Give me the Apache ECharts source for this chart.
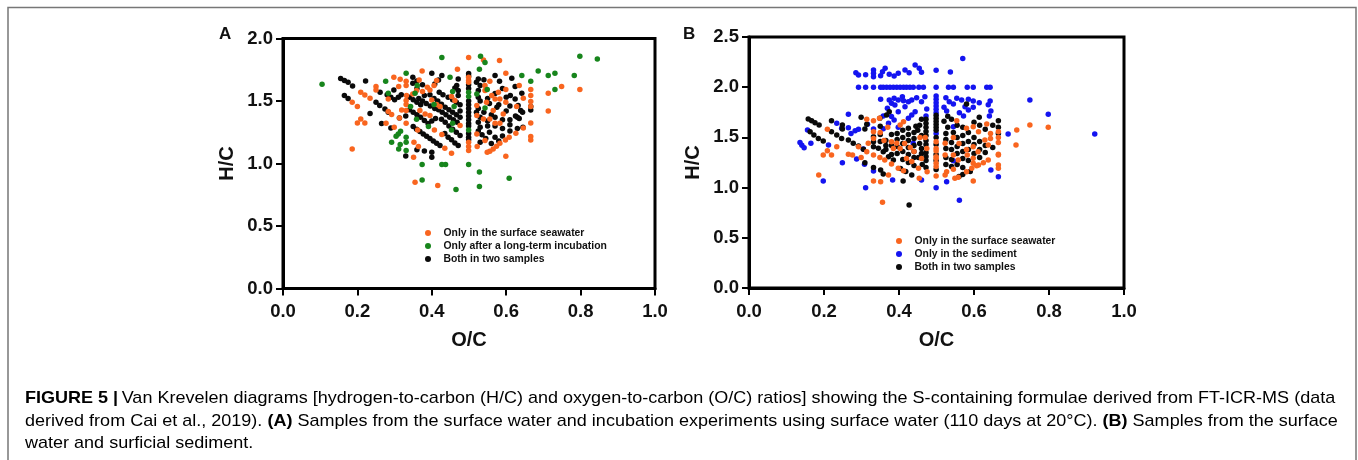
<!DOCTYPE html>
<html><head><meta charset="utf-8">
<style>html,body{margin:0;padding:0;background:#fff}#c{width:1358px;height:460px}</style>
<script src="https://cdn.jsdelivr.net/npm/echarts@6/dist/echarts.min.js"></script>
</head><body><div id="c"></div>
<script>
const xTicks=[0,0.2,0.4,0.6,0.8,1.0];
const legendA=['Only in the surface seawater','Only after a long-term incubation','Both in two samples'];
const legendB=['Only in the surface seawater','Only in the sediment','Both in two samples'];
const captionLine1Rest='Van Krevelen diagrams [hydrogen-to-carbon (H/C) and oxygen-to-carbon (O/C) ratios] showing the S-containing formulae derived from FT-ICR-MS (data';
const orangeA=[[.499,1.848],[.539,1.829],[.582,1.824],[.469,1.755],[.374,1.741],[.599,1.723],[.298,1.691],[.315,1.675],[.331,1.659],[.331,1.624],[.311,1.616],[.25,1.616],[.25,1.589],[.209,1.571],[.22,1.549],[.234,1.523],[.186,1.491],[.2,1.456],[.209,1.357],[.2,1.325],[.22,1.325],[.186,1.117],[.413,1.664],[.406,1.624],[.395,1.589],[.366,1.669],[.359,1.584],[.349,1.557],[.332,1.544],[.331,1.504],[.331,1.472],[.331,1.424],[.283,1.517],[.319,1.429],[.375,1.576],[.388,1.611],[.499,1.691],[.499,1.664],[.499,1.65],[.556,1.659],[.543,1.624],[.543,1.584],[.635,1.624],[.599,1.592],[.579,1.571],[.561,1.544],[.583,1.517],[.599,1.491],[.646,1.523],[.628,1.456],[.666,1.592],[.666,1.544],[.666,1.496],[.666,1.456],[.713,1.563],[.749,1.616],[.798,1.592],[.713,1.421],[.666,1.325],[.666,1.216],[.666,1.189],[.646,1.285],[.626,1.243],[.608,1.211],[.598,1.189],[.583,1.163],[.574,1.139],[.565,1.117],[.556,1.099],[.549,1.091],[.599,1.059],[.521,1.237],[.543,1.184],[.522,1.136],[.499,1.171],[.499,1.136],[.499,1.104],[.453,1.083],[.435,1.123],[.352,1.171],[.364,1.136],[.351,1.051],[.427,1.232],[.407,1.269],[.362,1.269],[.331,1.323],[.299,1.291],[.277,1.323],[.313,1.365],[.292,1.392],[.283,1.416],[.368,1.424],[.382,1.397],[.395,1.384],[.4,1.509],[.413,1.472],[.422,1.456],[.453,1.536],[.462,1.504],[.476,1.304],[.521,1.464],[.521,1.384],[.539,1.357],[.565,1.424],[.592,1.397],[.57,1.323],[.583,1.323],[.556,1.357],[.57,1.517],[.547,1.491],[.355,.851],[.416,.824]];
const greenA=[[.105,1.635],[.427,1.848],[.531,1.859],[.543,1.808],[.798,1.859],[.845,1.837],[.686,1.741],[.642,1.704],[.713,1.704],[.731,1.723],[.783,1.704],[.731,1.592],[.666,1.659],[.528,1.755],[.449,1.69],[.331,1.723],[.276,1.659],[.283,1.563],[.361,1.624],[.355,1.563],[.456,1.576],[.521,1.557],[.549,1.592],[.499,1.571],[.499,1.536],[.343,1.456],[.406,1.472],[.46,1.456],[.543,1.445],[.359,1.355],[.391,1.296],[.456,1.323],[.453,1.269],[.499,1.269],[.316,1.259],[.31,1.237],[.304,1.219],[.331,1.211],[.331,1.171],[.292,1.171],[.315,1.152],[.311,1.117],[.331,1.104],[.374,.992],[.427,.992],[.437,.992],[.499,.992],[.528,.933],[.374,.869],[.608,.883],[.465,.792],[.528,.816]];
const blackA=[[.155,1.68],[.165,1.665],[.175,1.65],[.187,1.62],[.165,1.545],[.175,1.52],[.222,1.66],[.234,1.40],[.261,1.57],[.28,1.55],[.298,1.589],[.25,1.49],[.26,1.465],[.274,1.437],[.283,1.41],[.313,1.365],[.265,1.32],[.29,1.285],[.35,1.296],[.359,1.275],[.368,1.256],[.377,1.237],[.386,1.219],[.395,1.2],[.404,1.181],[.413,1.163],[.422,1.144],[.349,1.691],[.349,1.643],[.4,1.723],[.427,1.704],[.418,1.669],[.408,1.637],[.471,1.677],[.467,1.624],[.471,1.584],[.471,1.544],[.462,1.605],[.57,1.704],[.615,1.683],[.582,1.659],[.624,1.616],[.525,1.677],[.53,1.624],[.525,1.584],[.642,1.563],[.611,1.544],[.624,1.517],[.632,1.464],[.644,1.411],[.666,1.456],[.666,1.429],[.639,1.424],[.499,1.72],[.499,1.70],[.499,1.63],[.499,1.60],[.499,1.5],[.499,1.47],[.499,1.44],[.499,1.41],[.499,1.38],[.499,1.35],[.499,1.32],[.499,1.30],[.499,1.24],[.499,1.21],[.499,1.19],[.471,1.144],[.462,1.165],[.453,1.19],[.444,1.21],[.435,1.24],[.476,1.224],[.466,1.25],[.456,1.275],[.446,1.3],[.436,1.33],[.426,1.355],[.476,1.37],[.466,1.39],[.456,1.41],[.446,1.43],[.436,1.45],[.426,1.475],[.416,1.5],[.406,1.52],[.476,1.47],[.466,1.49],[.456,1.51],[.444,1.53],[.43,1.55],[.42,1.57],[.476,1.42],[.468,1.33],[.458,1.35],[.448,1.37],[.438,1.39],[.428,1.41],[.418,1.43],[.408,1.44],[.396,1.46],[.385,1.48],[.375,1.5],[.365,1.52],[.41,1.36],[.4,1.34],[.39,1.32],[.38,1.345],[.37,1.37],[.36,1.39],[.35,1.41],[.34,1.43],[.37,1.47],[.36,1.49],[.35,1.51],[.34,1.53],[.318,1.55],[.31,1.53],[.3,1.51],[.29,1.53],[.33,1.38],[.36,1.6],[.375,1.63],[.38,1.545],[.395,1.55],[.36,1.66],[.52,1.65],[.54,1.67],[.525,1.53],[.55,1.52],[.57,1.56],[.59,1.6],[.6,1.53],[.53,1.5],[.555,1.48],[.58,1.47],[.61,1.46],[.525,1.44],[.54,1.41],[.56,1.39],[.575,1.45],[.6,1.42],[.625,1.38],[.635,1.36],[.52,1.41],[.53,1.37],[.55,1.34],[.57,1.37],[.59,1.35],[.61,1.35],[.63,1.37],[.525,1.33],[.53,1.29],[.55,1.3],[.57,1.3],[.59,1.28],[.61,1.31],[.525,1.26],[.535,1.23],[.555,1.25],[.57,1.21],[.59,1.22],[.61,1.26],[.63,1.28],[.645,1.29],[.53,1.17],[.545,1.2],[.56,1.16],[.58,1.18],[.4,1.09],[.33,1.06],[.4,1.05],[.36,1.11],[.38,1.1]];
const orangeB=[[.314,1.68],[.332,1.667],[.348,1.69],[.209,1.58],[.714,1.574],[.749,1.623],[.798,1.6],[.712,1.424],[.665,1.557],[.665,1.5],[.665,1.448],[.665,1.325],[.644,1.54],[.644,1.49],[.634,1.633],[.598,1.607],[.612,1.557],[.629,1.474],[.638,1.424],[.554,1.667],[.58,1.59],[.412,1.657],[.403,1.623],[.38,1.457],[.394,1.441],[.403,1.39],[.385,1.39],[.456,1.5],[.474,1.39],[.499,1.457],[.499,1.39],[.499,1.308],[.499,1.242],[.234,1.408],[.209,1.368],[.198,1.325],[.22,1.325],[.265,1.331],[.276,1.325],[.332,1.325],[.292,1.408],[.318,1.441],[.332,1.49],[.332,1.557],[.42,1.29],[.434,1.26],[.46,1.29],[.523,1.441],[.545,1.325],[.558,1.275],[.598,1.408],[.598,1.242],[.612,1.225],[.314,1.358],[.299,1.301],[.349,1.301],[.362,1.275],[.38,1.235],[.398,1.192],[.412,1.169],[.186,1.126],[.332,1.066],[.351,1.059],[.356,.853],[.372,1.126],[.454,1.092],[.452,1.192],[.475,1.159],[.499,1.365],[.499,1.291],[.499,1.209],[.499,1.116],[.523,1.325],[.527,1.159],[.523,1.126],[.545,1.182],[.549,1.092],[.558,1.102],[.58,1.159],[.594,1.192],[.607,1.218],[.625,1.248],[.638,1.275],[.598,1.066],[.665,1.331],[.665,1.225],[.665,1.192],[.582,1.325],[.598,1.292],[.611,1.358],[.43,1.4],[.415,1.44],[.44,1.36],[.47,1.5],[.36,1.47],[.35,1.55],[.37,1.6],[.56,1.44],[.545,1.5],[.58,1.38]];
const blueB=[[.57,2.287],[.285,2.145],[.292,2.122],[.311,2.125],[.332,2.171],[.332,2.138],[.332,2.105],[.363,2.188],[.356,2.155],[.351,2.115],[.374,2.128],[.387,2.112],[.398,2.138],[.416,2.171],[.427,2.145],[.443,2.221],[.454,2.188],[.46,2.148],[.499,2.168],[.537,2.151],[.292,2],[.311,2],[.332,2],[.351,2],[.358,2],[.367,2],[.376,2],[.385,2],[.394,2],[.403,2],[.412,2],[.42,2],[.429,2],[.438,2],[.453,2],[.465,2],[.499,2],[.532,2],[.545,2],[.582,2],[.598,2],[.634,2],[.643,2],[.351,1.879],[.374,1.872],[.387,1.889],[.398,1.872],[.409,1.906],[.412,1.866],[.38,1.839],[.389,1.823],[.425,1.856],[.434,1.872],[.447,1.896],[.469,1.906],[.46,1.856],[.499,1.912],[.499,1.879],[.499,1.846],[.499,1.813],[.499,1.78],[.499,1.746],[.525,1.896],[.534,1.856],[.545,1.833],[.554,1.889],[.567,1.873],[.585,1.88],[.598,1.863],[.614,1.846],[.643,1.863],[.638,1.826],[.645,1.763],[.641,1.713],[.52,1.8],[.527,1.763],[.576,1.806],[.585,1.773],[.598,1.8],[.561,1.746],[.572,1.713],[.749,1.873],[.798,1.73],[.922,1.534],[.691,1.534],[.474,1.783],[.472,1.713],[.443,1.756],[.434,1.723],[.425,1.69],[.416,1.806],[.398,1.756],[.369,1.79],[.265,1.73],[.358,1.713],[.38,1.707],[.387,1.673],[.234,1.64],[.247,1.59],[.265,1.597],[.283,1.567],[.272,1.54],[.292,1.58],[.316,1.63],[.332,1.584],[.358,1.587],[.372,1.64],[.398,1.6],[.156,1.574],[.136,1.448],[.141,1.421],[.147,1.398],[.165,1.441],[.212,1.424],[.499,1.54],[.438,1.441],[.305,1.384],[.545,1.607],[.545,1.268],[.287,1.285],[.308,1.232],[.198,1.066],[.249,1.248],[.332,1.165],[.311,.999],[.383,1.076],[.46,1.076],[.499,.999],[.527,1.059],[.561,.873],[.645,1.175],[.665,1.109]];
const blackB=[[.158,1.683],[.167,1.667],[.176,1.647],[.187,1.624],[.163,1.557],[.173,1.524],[.185,1.49],[.198,1.464],[.22,1.667],[.22,1.557],[.234,1.524],[.247,1.49],[.249,1.624],[.249,1.584],[.265,1.474],[.278,1.441],[.292,1.414],[.305,1.381],[.299,1.7],[.314,1.63],[.309,1.584],[.332,1.507],[.332,1.457],[.332,1.408],[.349,1.69],[.367,1.723],[.374,1.756],[.345,1.391],[.358,1.358],[.372,1.308],[.385,1.275],[.332,1.199],[.351,1.175],[.358,1.135],[.309,1.248],[.411,1.066],[.427,.827],[.434,1.126],[.418,1.16],[.404,1.19],[.665,1.667],[.665,1.6],[.665,1.54],[.58,1.833],[.614,1.7],[.499,1.72],[.499,1.69],[.499,1.66],[.499,1.63],[.499,1.6],[.499,1.57],[.499,1.5],[.499,1.43],[.499,1.33],[.499,1.27],[.499,1.18],[.472,1.68],[.472,1.64],[.472,1.6],[.472,1.56],[.472,1.52],[.472,1.47],[.472,1.43],[.472,1.35],[.472,1.31],[.472,1.27],[.472,1.2],[.46,1.68],[.455,1.62],[.45,1.57],[.46,1.52],[.455,1.44],[.46,1.39],[.46,1.34],[.452,1.3],[.462,1.23],[.445,1.61],[.44,1.55],[.44,1.49],[.44,1.42],[.44,1.36],[.44,1.3],[.44,1.22],[.425,1.59],[.425,1.53],[.425,1.47],[.425,1.4],[.425,1.33],[.425,1.25],[.41,1.57],[.41,1.5],[.41,1.44],[.41,1.36],[.41,1.28],[.395,1.54],[.395,1.48],[.395,1.41],[.395,1.34],[.38,1.53],[.38,1.42],[.38,1.33],[.365,1.47],[.365,1.42],[.365,1.38],[.35,1.46],[.35,1.53],[.35,1.61],[.53,1.71],[.52,1.66],[.53,1.6],[.525,1.54],[.525,1.48],[.525,1.39],[.525,1.3],[.525,1.23],[.54,1.68],[.545,1.55],[.54,1.45],[.54,1.38],[.54,1.28],[.54,1.21],[.555,1.62],[.555,1.5],[.555,1.41],[.555,1.34],[.555,1.23],[.57,1.6],[.57,1.52],[.57,1.44],[.57,1.36],[.57,1.29],[.57,1.2],[.585,1.55],[.585,1.46],[.585,1.38],[.585,1.27],[.6,1.65],[.6,1.5],[.6,1.43],[.6,1.34],[.615,1.62],[.615,1.46],[.615,1.38],[.615,1.3],[.63,1.58],[.63,1.42],[.63,1.35],[.65,1.62],[.65,1.4],[.57,1.13],[.56,1.11],[.59,1.16]];
const chart=echarts.init(document.getElementById('c'),null,{renderer:'canvas'});
const F='"Liberation Sans",Arial,sans-serif';
function common(m){return{axisLine:{show:true,onZero:false,lineStyle:{color:'#000',width:3}},axisTick:{show:true,length:7,lineStyle:{color:'#000',width:2}},axisLabel:{fontFamily:F,fontWeight:'bold',fontSize:18.5,color:'#111',margin:m,formatter:v=>v.toFixed(1)},splitLine:{show:false}}}
function xAxis(i){return Object.assign(common(14),{gridIndex:i,type:'value',min:0,max:1,interval:.2,name:'O/C',nameLocation:'middle',nameGap:42,nameTextStyle:{fontFamily:F,fontWeight:'bold',fontSize:20,color:'#111'}})}
function yAxis(i,max){return Object.assign(common(10),{gridIndex:i,type:'value',min:0,max,interval:.5,name:'H/C',nameLocation:'middle',nameGap:46,nameTextStyle:{fontFamily:F,fontWeight:'bold',fontSize:20,color:'#111'}})}
function sc(name,data,color,i,z){return{name,type:'scatter',xAxisIndex:i,yAxisIndex:i,data,symbol:'circle',symbolSize:5.5,z,itemStyle:{color,opacity:1},emphasis:{disabled:true},silent:true}}
function lg(names,left,top){return{data:names.map(n=>({name:n,icon:'circle'})),orient:'vertical',left,top,itemWidth:7,itemHeight:6,itemGap:3,selectedMode:false,textStyle:{fontFamily:F,fontWeight:'bold',fontSize:10.4,color:'#111',padding:[0,0,0,7]},padding:0}}
const rich={b:{fontFamily:F,fontWeight:'bold',fontSize:17,color:'#333'},r:{fontFamily:F,fontSize:17,color:'#444'},g:{fontFamily:F,fontSize:17,color:'#999'}};
chart.setOption({
 animation:false,backgroundColor:'#fff',
 grid:[{left:283,top:38.5,width:372,height:250,show:true,borderColor:'#000',borderWidth:3,backgroundColor:'transparent'},{left:749,top:37,width:375,height:251,show:true,borderColor:'#000',borderWidth:3,backgroundColor:'transparent'}],
 xAxis:[xAxis(0),xAxis(1)],yAxis:[yAxis(0,2),yAxis(1,2.5)],
 legend:[lg(legendA,425,228),lg(legendB,896,236)],
 series:[sc(legendA[2],blackA,'#0a0a0a',0,3),sc(legendA[0],orangeA,'#f9651f',0,4),sc(legendA[1],greenA,'#17851c',0,5),
  sc(legendB[2],blackB,'#0a0a0a',1,3),sc(legendB[0],orangeB,'#f9651f',1,4),sc(legendB[1],blueB,'#1414f0',1,2)],
 graphic:[
  {type:'polyline',silent:true,shape:{points:[[8,460],[8,7.5],[1356,7.5],[1356,460]]},style:{stroke:'#777',fill:null,lineWidth:1.5}},
  {type:'text',x:219,y:26,silent:true,style:{text:'A',font:'bold 17px '+F,fill:'#111'}},
  {type:'text',x:683,y:26,silent:true,style:{text:'B',font:'bold 17px '+F,fill:'#111'}},
  {type:'text',x:25,y:398,scaleX:1.06,silent:true,style:{rich,text:'{b|FIGURE 5 |} {r|'+captionLine1Rest+'}',verticalAlign:'middle'}},
  {type:'text',x:25,y:421,scaleX:1.06,silent:true,style:{rich,text:'{r|derived from }{g|Cai et al., 2019}{r|). }{b|(A)}{r| Samples from the surface water and incubation experiments using surface water (110 days at 20°C). }{b|(B)}{r| Samples from the surface}',verticalAlign:'middle'}},
  {type:'text',x:25,y:443,scaleX:1.06,silent:true,style:{rich,text:'{r|water and surficial sediment.}',verticalAlign:'middle'}}
 ]
});
</script></body></html>
